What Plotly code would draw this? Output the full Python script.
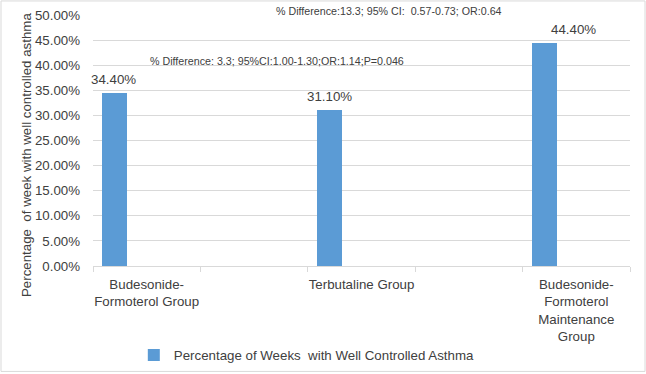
import plotly.graph_objects as go

# ---- data ----
slots = ["Budesonide-<br>Formoterol Group", " ", "Terbutaline Group", "  ",
         "Budesonide-<br>Formoterol<br>Maintenance<br>Group"]
groups = ["Budesonide-<br>Formoterol Group", "Terbutaline Group",
          "Budesonide-<br>Formoterol<br>Maintenance<br>Group"]
values = [34.4, 31.1, 44.4]
value_labels = ["34.40%", "31.10%", "44.40%"]
series_name = "Percentage of Weeks\u00a0\u00a0with Well Controlled Asthma"
y_title = "Percentage\u00a0\u00a0of week with well controlled asthma"
note_top = "% Difference:13.3; 95% CI:\u00a0\u00a00.57-0.73; OR:0.64"
note_mid = "% Difference: 3.3; 95%CI:1.00-1.30;OR:1.14;P=0.046"

FONT = "Liberation Sans, Arial, sans-serif"
TXT = "#404040"
GRID = "#d9d9d9"
BAR = "#5b9bd5"

fig = go.Figure()
fig.add_trace(go.Bar(
    x=groups, y=values, name=series_name,
    marker=dict(color=BAR, line=dict(width=0)),
    offset=-0.416, width=0.233,
    showlegend=True,
))

label_shift = [-33, -32, -3]
annotations = []
for g, v, t, s in zip(groups, values, value_labels, label_shift):
    annotations.append(dict(x=g, y=v, xref="x", yref="y", text=t, showarrow=False,
                            xshift=s, yshift=13.5, yanchor="middle",
                            font=dict(family=FONT, size=13.3, color=TXT)))

annotations.append(dict(x=0.551, y=1.016, xref="paper", yref="paper", text=note_top,
                        showarrow=False, xanchor="center", yanchor="middle",
                        font=dict(family=FONT, size=10.7, color=TXT)))
annotations.append(dict(x=0.343, y=0.8165, xref="paper", yref="paper", text=note_mid,
                        showarrow=False, xanchor="center", yanchor="middle",
                        font=dict(family=FONT, size=10.7, color=TXT)))
annotations.append(dict(x=-0.125, y=0.4416, xref="paper", yref="paper", text=y_title,
                        showarrow=False, textangle=-90, xanchor="center", yanchor="middle",
                        font=dict(family=FONT, size=13.3, color=TXT)))

fig.update_layout(
    width=646, height=374,
    margin=dict(l=93, r=16, t=15, b=108, autoexpand=False),
    paper_bgcolor="white", plot_bgcolor="white",
    font=dict(family=FONT, size=13.3, color=TXT),
    bargap=0,
    annotations=annotations,
    showlegend=True,
    legend=dict(orientation="h", x=0.076, y=-0.356, xanchor="left", yanchor="middle",
                font=dict(family=FONT, size=13.3, color=TXT), bgcolor="rgba(0,0,0,0)"),
    shapes=[dict(type="rect", xref="paper", yref="paper",
                 x0=-0.1713, x1=1.028, y0=-0.42, y1=1.056,
                 line=dict(color=GRID, width=1), fillcolor="rgba(0,0,0,0)", layer="below")],
)
fig.update_xaxes(
    type="category", categoryorder="array", categoryarray=slots,
    range=[-0.5, 4.5], tickangle=0, automargin=False,
    showline=True, linecolor=GRID, linewidth=1,
    ticks="outside", tickson="boundaries", ticklen=5, tickcolor=GRID,
    ticklabelstandoff=6,
    showgrid=False, zeroline=False,
    tickfont=dict(family=FONT, size=13.3, color=TXT),
)
fig.update_yaxes(
    range=[0, 50], dtick=5, tickformat=".2f", ticksuffix="%",
    showgrid=True, gridcolor=GRID, gridwidth=1, zeroline=False, showline=False,
    ticks="", ticklabelstandoff=12, automargin=False,
    tickfont=dict(family=FONT, size=13.3, color=TXT),
)

fig.write_html("out.html", config={"displayModeBar": False},
               post_script="document.body.style.margin='0';")
